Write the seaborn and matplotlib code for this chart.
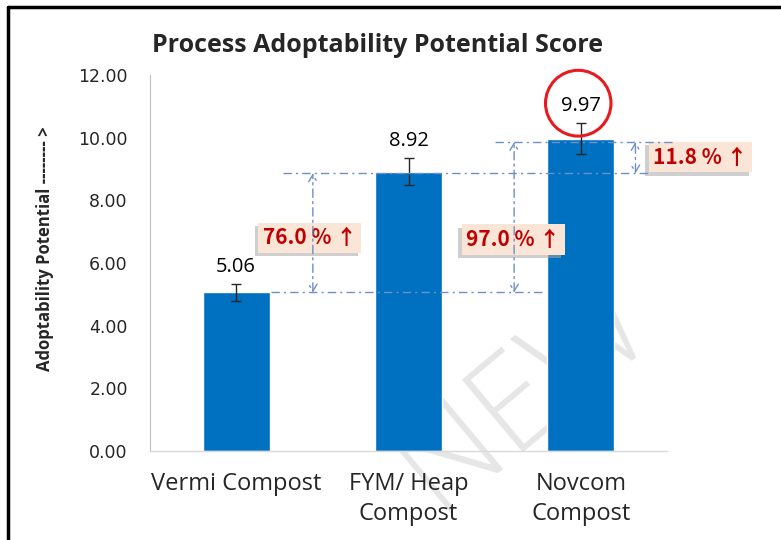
import matplotlib
matplotlib.use("Agg")
import pandas as pd
import matplotlib.pyplot as plt
import matplotlib.patheffects as pe
import seaborn as sns
from matplotlib.patches import Ellipse
from matplotlib.lines import Line2D

# Chart data
categories = ["Vermi Compost", "FYM/ Heap\nCompost", "Novcom\nCompost"]
scores = [5.06, 8.92, 9.97]
errors = [0.27, 0.43, 0.50]
yticks = [0, 2, 4, 6, 8, 10, 12]
gain_labels = ["76.0 % \u2191", "97.0 % \u2191", "11.8 % \u2191"]

df = pd.DataFrame({"process": categories, "score": scores})

sns.set_style("white")
plt.rcParams["font.family"] = ["Open Sans", "DejaVu Sans"]

W, H = 781, 540
fig = plt.figure(figsize=(W / 100, H / 100), dpi=100)
ax = fig.add_axes([150 / W, 1 - 451 / H, (667 - 150) / W, (451 - 75) / H])
ax.patch.set_alpha(0)

sns.barplot(data=df, x="process", y="score", color="#0070C0", saturation=1,
            width=0.39, errorbar=None, ax=ax, zorder=2)
ax.errorbar(range(len(scores)), scores, yerr=errors, fmt="none",
            ecolor="#262626", elinewidth=1, capsize=3.5, capthick=1, zorder=3)

# value labels above the error bars
for i, (s, e) in enumerate(zip(scores, errors)):
    ax.annotate(f"{s:.2f}", (i, s + e), xytext=(0, 5), textcoords="offset points",
                ha="center", va="bottom", fontsize=14.5, color="black")

ax.set_xlim(-0.5, 2.5)
ax.set_ylim(0, 12)
ax.set_yticks(yticks)
ax.set_yticklabels([f"{v:.2f}" for v in yticks], family="DejaVu Sans")
ax.set_xticks(range(len(categories)))
ax.set_xticklabels(categories, linespacing=1.35)
ax.set_xlabel("")
ax.set_ylabel("")
ax.tick_params(axis="y", length=5, width=0.8, color="#BFBFBF", pad=11, labelsize=12.5)
ax.tick_params(axis="x", length=0, pad=15, labelsize=17)
for side in ["top", "right"]:
    ax.spines[side].set_visible(False)
ax.spines["left"].set_color("#BFBFBF")
ax.spines["left"].set_linewidth(0.8)
ax.spines["bottom"].set_color("#D9D9D9")
ax.spines["bottom"].set_linewidth(1)

# dash-dot reference lines and double arrows
lc = "#6F8FC8"
dd = (0, (6, 3, 1.5, 3))
ax.plot([0.2, 1.8], [scores[0], scores[0]], color=lc, lw=1, ls=dd, zorder=7, clip_on=False)
ax.plot([0.27, 2.39], [scores[1] - 0.06, scores[1] - 0.06], color=lc, lw=1, ls=dd, zorder=7, clip_on=False)
ax.plot([1.5, 2.55], [scores[2] - 0.11, scores[2] - 0.11], color=lc, lw=1, ls=dd, zorder=7, clip_on=False)

arrows = [(0.445, scores[0], scores[1] - 0.06),
          (1.613, scores[0], scores[2] - 0.11),
          (2.317, scores[1] - 0.06, scores[2] - 0.11)]
for x, lo, hi in arrows:
    ax.annotate("", xy=(x, hi), xytext=(x, lo), annotation_clip=False,
                arrowprops=dict(arrowstyle="<->,head_length=0.5,head_width=0.3",
                                color=lc, lw=1, ls=dd, shrinkA=0, shrinkB=0),
                zorder=7)

# percentage boxes
box_pos = [(0.427, 6.80), (1.608, 6.75), (2.695, 9.38)]
for (x, y), lab in zip(box_pos, gain_labels):
    t = ax.text(x, y, lab, ha="center", va="center", color="#C00000",
                fontsize=15, fontweight="bold",
                family=["Noto Sans CJK JP", "DejaVu Sans"],
                zorder=6, clip_on=False,
                bbox=dict(boxstyle="square,pad=0.22", fc="#FBE5D6", ec="none"))
    t.get_bbox_patch().set_path_effects(
        [pe.withSimplePatchShadow(offset=(-2.5, -2.5), shadow_rgbFace="#a8a8a8", alpha=0.55),
         pe.Normal()])

# red circle around the best score
ax.add_patch(Ellipse((1.985, 11.1), 0.38, 2.1, fill=False, ec="#E8191F",
                     lw=2.2, clip_on=False, zorder=8))

# title and y label
fig.text(378 / W, 1 - 45 / H, "Process Adoptability Potential Score",
         ha="center", va="center", fontsize=18, fontweight="bold")
fig.text(45 / W, 1 - 249 / H, "Adoptability Potential -------- >", rotation=90,
         ha="center", va="center", fontsize=12, fontweight="bold")

# watermark
fig.text(525 / W, 1 - 395 / H, "NEW", rotation=40, ha="center", va="center",
         fontsize=95, color="#e6e6e6", fontweight="light", zorder=-1)

# frame lines
fig.add_artist(Line2D([8 / W, 8 / W], [0, 1 - 7 / H], transform=fig.transFigure,
                      color="black", lw=2.5))
fig.add_artist(Line2D([8 / W, 1], [1 - 7 / H, 1 - 7 / H], transform=fig.transFigure,
                      color="black", lw=2.5))

fig.savefig("out.png", dpi=100)
